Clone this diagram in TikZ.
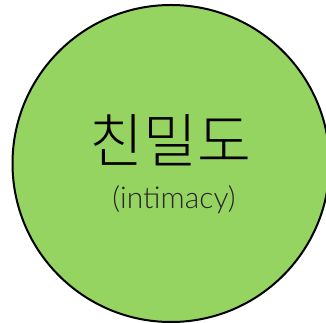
\documentclass[tikz,border=0pt]{standalone}
\usepackage{fontspec}
\setmainfont{Lato}[UprightFont={* Light}]
\newfontfamily\krfont{Noto Sans CJK KR}[UprightFont={* Light}]
\definecolor{cfill}{RGB}{150,212,98}
\begin{document}
\begin{tikzpicture}[x=1pt,y=1pt,
  bubble/.style={circle,draw=black,line width=2pt,fill=cfill,minimum size=317pt,inner sep=0pt},
  title/.style={font=\krfont\fontsize{58.5}{62}\selectfont,inner sep=0pt},
  sub/.style={font=\fontsize{30}{34}\selectfont,inner sep=0pt,text=black!85}]
\useasboundingbox (0,0) rectangle (326,323);
\begin{scope}
\clip (0,0) rectangle (326,323);
\node[bubble] (c) at (171,159.5) {};
\end{scope}
\node[title] (t) at (170.5,183) {친밀도};
\node[sub] (s) at (174,123) {(intimacy)};
\end{tikzpicture}
\end{document}
